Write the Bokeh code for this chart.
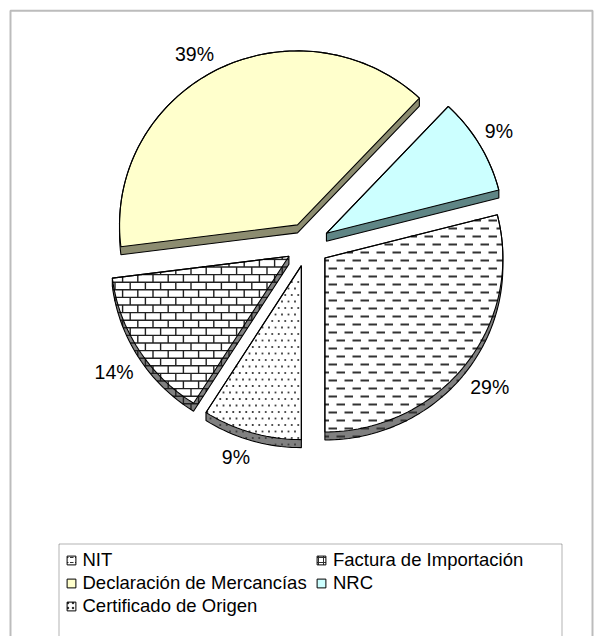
import numpy as np
from bokeh.plotting import figure
from bokeh.models import Range1d, Legend, LegendItem, BoxAnnotation, ColumnDataSource
from bokeh.core.properties import value, field
from bokeh.embed import file_html
from bokeh.resources import INLINE

# ---------------- data ----------------
categories = ["NIT", "NRC", "Declaración de Mercancías",
              "Factura de Importación", "Certificado de Origen"]
percents = [29, 9, 39, 14, 9]
legend_col1 = ["NIT", "Declaración de Mercancías", "Certificado de Origen"]
legend_col2 = ["Factura de Importación", "NRC"]

# ---------------- style ----------------
top_colors = ["#FFFFFF", "#CCFFFF", "#FFFFCC", "#FFFFFF", "#FFFFFF"]
side_colors = ["#808080", "#5F8585", "#8C8C70", "#808080", "#808080"]
textures = ["dash", None, None, "brick", "dot"]
legend_hatch = ["horizontal_dash", None, None, "cross", "dot"]
FONT = "Liberation Sans"
LEG_SIZE = "18.5px"
LAB_SIZE = "19.5px"

W, H = 600, 636
CX, CY = 307.0, 244.0
RX, RY = 178.0, 174.0
EXPLODE = 22.0
DEPTH = 8.0
GAP = 6.0
START = -90.0

p = figure(width=W, height=H, output_backend="svg", toolbar_location=None,
           x_range=Range1d(0, W), y_range=Range1d(H, 0),
           x_axis_location=None, y_axis_location=None,
           min_border=0, outline_line_color=None,
           background_fill_color="white", border_fill_color="white")
p.grid.visible = False


def convex_hull(pts):
    pts = sorted(set(map(lambda q: (round(q[0], 4), round(q[1], 4)), pts)))

    def cross(o, a, b):
        return (a[0] - o[0]) * (b[1] - o[1]) - (a[1] - o[1]) * (b[0] - o[0])
    lower, upper = [], []
    for q in pts:
        while len(lower) >= 2 and cross(lower[-2], lower[-1], q) <= 0:
            lower.pop()
        lower.append(q)
    for q in reversed(pts):
        while len(upper) >= 2 and cross(upper[-2], upper[-1], q) <= 0:
            upper.pop()
        upper.append(q)
    return np.array(lower[:-1] + upper[:-1])


def edge_normals(poly):
    a = poly
    b = np.roll(poly, -1, axis=0)
    e = b - a
    area = 0.5 * np.sum(a[:, 0] * b[:, 1] - b[:, 0] * a[:, 1])
    s = 1.0 if area > 0 else -1.0
    n = s * np.column_stack([-e[:, 1], e[:, 0]])
    return a, n


def clip_segments(poly, P0, P1):
    a, n = edge_normals(poly)
    D = P1 - P0
    t0 = np.zeros(len(P0))
    t1 = np.ones(len(P0))
    ok = np.ones(len(P0), bool)
    for ai, ni in zip(a, n):
        c = (P0 - ai) @ ni
        den = D @ ni
        with np.errstate(divide="ignore", invalid="ignore"):
            t = -c / den
        pos = den > 1e-12
        neg = den < -1e-12
        zer = ~(pos | neg)
        t0 = np.where(pos, np.maximum(t0, t), t0)
        t1 = np.where(neg, np.minimum(t1, t), t1)
        ok &= ~(zer & (c < 0))
    ok &= (t1 - t0) * np.hypot(D[:, 0], D[:, 1]) > 0.6
    A = P0 + D * t0[:, None]
    B = P0 + D * t1[:, None]
    return A[ok], B[ok]


def inside(poly, P):
    a, n = edge_normals(poly)
    ok = np.ones(len(P), bool)
    for ai, ni in zip(a, n):
        ok &= (P - ai) @ ni >= 0.5 * np.hypot(*ni)
    return P[ok]


def texture(kind, poly):
    xmin, ymin = poly.min(0)
    xmax, ymax = poly.max(0)
    P0, P1, dots = [], [], []
    if kind == "dash":
        period, length, row = 16.0, 8.5, 8.0
        for k in np.arange(np.floor(ymin / row) - 1, np.ceil(ymax / row) + 1):
            y = k * row + 4
            off = (k % 2) * period / 2
            for j in np.arange(np.floor((xmin - off) / period) - 1, np.ceil((xmax - off) / period) + 1):
                x = j * period + off
                P0.append((x, y)); P1.append((x + length, y))
    elif kind == "brick":
        bw, bh = 15.2, 7.6
        for k in np.arange(np.floor(ymin / bh) - 1, np.ceil(ymax / bh) + 1):
            y = k * bh + 0.5
            P0.append((xmin - 5, y)); P1.append((xmax + 5, y))
            off = (k % 2) * bw / 2
            for j in np.arange(np.floor((xmin - off) / bw) - 1, np.ceil((xmax - off) / bw) + 1):
                x = j * bw + off + 0.5
                P0.append((x, y)); P1.append((x, y + bh))
    elif kind == "dot":
        sp = 6.5
        for k in np.arange(np.floor(ymin / sp) - 1, np.ceil(ymax / sp) + 1):
            y = k * sp + 2
            off = (k % 2) * sp / 2
            for j in np.arange(np.floor((xmin - off) / sp) - 1, np.ceil((xmax - off) / sp) + 1):
                dots.append((j * sp + off + 2, y))
    return np.array(P0, float).reshape(-1, 2), np.array(P1, float).reshape(-1, 2), np.array(dots, float).reshape(-1, 2)


# ---------------- geometry from data ----------------
total = float(sum(percents))
cum = 0.0
tops, hulls = [], []
lab = dict(x=[], y=[], text=[], align=[], baseline=[])
for i, v in enumerate(percents):
    a0 = np.radians(START + 360.0 * cum / total)
    a1 = np.radians(START + 360.0 * (cum + v) / total)
    cum += v
    mid = 0.5 * (a0 + a1)
    cx = CX + EXPLODE * np.cos(mid)
    cy = CY - EXPLODE * np.sin(mid)
    n = max(int(np.degrees(a1 - a0) / 1.5), 8)
    ang = np.linspace(a0, a1, n)
    top = np.vstack([[cx, cy], np.column_stack([cx + RX * np.cos(ang), cy - RY * np.sin(ang)])])
    hull = convex_hull(np.vstack([top, top + [0.0, DEPTH]]))
    tops.append(top)
    hulls.append(hull)
    c, s = np.cos(mid), np.sin(mid)
    lab["x"].append(CX + (RX + EXPLODE + GAP) * c)
    lab["y"].append(CY - (RY + EXPLODE + GAP) * s + (DEPTH if s < 0 else 0.0))
    lab["text"].append(f"{round(100 * v / total)}%")
    lab["align"].append("left" if c >= 0 else "right")
    lab["baseline"].append("bottom" if s > 0 else "top")

# side walls (fill)
p.patches(xs=[h[:, 0].tolist() for h in hulls], ys=[h[:, 1].tolist() for h in hulls],
          fill_color=side_colors, line_color=None)
# top faces (fill)
p.patches(xs=[t[:, 0].tolist() for t in tops], ys=[t[:, 1].tolist() for t in tops],
          fill_color=top_colors, line_color=None)

# textures
seg_x0, seg_y0, seg_x1, seg_y1, seg_w, seg_c = [], [], [], [], [], []
dot_x, dot_y = [], []
for hull, kind in zip(hulls, textures):
    if kind is None:
        continue
    P0, P1, D = texture(kind, hull)
    if len(P0):
        A, B = clip_segments(hull, P0, P1)
        seg_x0 += A[:, 0].tolist(); seg_y0 += A[:, 1].tolist()
        seg_x1 += B[:, 0].tolist(); seg_y1 += B[:, 1].tolist()
        w = 2.0 if kind == "dash" else 1.4
        col = "#333333" if kind == "dash" else "#202020"
        seg_w += [w] * len(A); seg_c += [col] * len(A)
    if len(D):
        Q = inside(hull, D)
        dot_x += Q[:, 0].tolist(); dot_y += Q[:, 1].tolist()

p.segment(x0=seg_x0, y0=seg_y0, x1=seg_x1, y1=seg_y1, line_width=seg_w, line_color=seg_c)
p.scatter(x=dot_x, y=dot_y, marker="square", size=1.8, fill_color="#404040", line_color=None)

# outlines
p.patches(xs=[h[:, 0].tolist() for h in hulls], ys=[h[:, 1].tolist() for h in hulls],
          fill_color=None, line_color="black", line_width=1.1)
p.patches(xs=[t[:, 0].tolist() for t in tops], ys=[t[:, 1].tolist() for t in tops],
          fill_color=None, line_color="black", line_width=1.1)

# percentage labels
p.text(x="x", y="y", text="text", source=ColumnDataSource(lab),
       text_align=field("align"), text_baseline=field("baseline"),
       text_font=value(FONT), text_font_size=value(LAB_SIZE), text_color="black")

# chart border and legend box
p.add_layout(BoxAnnotation(left=10.0, right=592.0, top=10.3, bottom=800.0,
                           fill_color=None, line_color="#222222", line_width=2))
p.add_layout(BoxAnnotation(left=58.5, right=561.5, top=543.5, bottom=800.0,
                           fill_color=None, line_color="black", line_width=1))

# legend (two columns); swatch-only renderers that draw nothing in the plot
dummies = {}
for name, col, hp in zip(categories, top_colors, legend_hatch):
    kw = dict(hatch_pattern=hp, hatch_scale=5, hatch_color="#303030", hatch_weight=1) if hp else {}
    dummies[name] = p.scatter(x=[np.nan], y=[np.nan], marker="square", fill_color=col,
                              line_color="black", line_width=1, **kw)

common = dict(orientation="vertical", glyph_width=22, glyph_height=22, label_standoff=1,
              spacing=1, padding=0, margin=0, border_line_color=None,
              background_fill_alpha=0, label_text_font=FONT, label_text_font_size=LEG_SIZE,
              label_height=20, label_text_color="black")
leg1 = Legend(items=[LegendItem(label=n, renderers=[dummies[n]]) for n in legend_col1],
              location=(59.5, 19), **common)
leg2 = Legend(items=[LegendItem(label=n, renderers=[dummies[n]]) for n in legend_col2],
              location=(310, 42), **common)
p.add_layout(leg1)
p.add_layout(leg2)

open("out.html", "w").write(file_html(p, INLINE))
